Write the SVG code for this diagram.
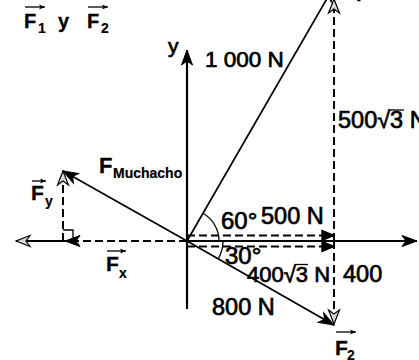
<svg xmlns="http://www.w3.org/2000/svg" width="419" height="360" viewBox="0 0 419 360">
<style>
text{font-family:"Liberation Sans",Arial,sans-serif;fill:#000;stroke:#000;stroke-width:0.7}
.b{font-weight:bold;stroke-width:0.3}
.lab{font-size:23.5px}
.sub{font-size:14px;font-weight:bold;stroke-width:0.2}
.axis{stroke:#000;stroke-width:2.2;fill:none}
.vec{stroke:#000;stroke-width:1.7;fill:none}
.dash{stroke:#000;stroke-width:2;stroke-dasharray:8 4;fill:none}
.thin{stroke:#000;stroke-width:1.3;fill:none}
</style>
<defs>
<marker id="blk" viewBox="-16 -7 17 14" refX="0" refY="0" markerWidth="17" markerHeight="14" markerUnits="userSpaceOnUse" orient="auto">
<path d="M0,0 L-15,-5.5 L-11,0 L-15,5.5 Z" fill="#000" stroke="#000" stroke-width="1"/>
</marker>
<marker id="hol" viewBox="-16 -7 17 14" refX="0" refY="0" markerWidth="17" markerHeight="14" markerUnits="userSpaceOnUse" orient="auto">
<path d="M0,0 L-14,-5.5 L-10,0 L-14,5.5 Z" fill="#d8d8d8" stroke="#000" stroke-width="1.2"/>
</marker>
<marker id="tri" viewBox="-14 -7 15 14" refX="0" refY="0" markerWidth="15" markerHeight="14" markerUnits="userSpaceOnUse" orient="auto">
<path d="M0,0 L-12,-5 L-12,5 Z" fill="#000" stroke="#000" stroke-width="1.4"/>
</marker>
<marker id="sm" viewBox="-7 -4 8 8" refX="0" refY="0" markerWidth="8" markerHeight="8" markerUnits="userSpaceOnUse" orient="auto">
<path d="M0,0 L-6,-2.5 L-4.5,0 L-6,2.5 Z" fill="#000"/>
</marker>
</defs>

<g id="connectors">
<line class="axis" x1="187" y1="309" x2="187" y2="50" marker-end="url(#blk)"/>
<line class="axis" x1="187" y1="241" x2="417" y2="241" marker-end="url(#blk)"/>
<line class="axis" x1="65" y1="241" x2="16" y2="241" marker-end="url(#hol)"/>
<line class="dash" x1="187" y1="241" x2="65" y2="241" marker-end="url(#blk)"/>
<line class="vec" x1="187" y1="241" x2="334" y2="-13.6" marker-end="url(#blk)"/>
<line class="vec" x1="187" y1="241" x2="334" y2="325" marker-end="url(#blk)"/>
<line class="vec" x1="187" y1="241" x2="63" y2="171" marker-end="url(#blk)"/>
<line class="dash" x1="63" y1="241" x2="63" y2="171" marker-end="url(#hol)"/>
<polyline class="thin" points="63,230 73,230 73,241"/>
<line class="dash" x1="187" y1="235.5" x2="334" y2="235.5" marker-end="url(#tri)"/>
<line class="dash" x1="187" y1="246.5" x2="334" y2="246.5" marker-end="url(#tri)"/>
<line class="dash" x1="334" y1="241" x2="334" y2="-1" marker-end="url(#hol)"/>
<line class="dash" x1="334" y1="241" x2="334" y2="324" marker-end="url(#hol)"/>
<path class="thin" d="M219,241 A32,32 0 0 0 203,213.3"/>
<path class="thin" d="M223,241 A36,36 0 0 1 218.2,259"/>
</g>

<g id="title">
<text class="b" x="24" y="28" font-size="20">F</text>
<text class="sub" x="38" y="33">1</text>
<line class="thin" x1="25" y1="7" x2="45" y2="7" marker-end="url(#sm)"/>
<text class="b" x="58" y="28" font-size="20">y</text>
<text class="b" x="87" y="28" font-size="20">F</text>
<text class="sub" x="101" y="33">2</text>
<line class="thin" x1="88" y1="7" x2="108" y2="7" marker-end="url(#sm)"/>
</g>

<g id="axis-y-label"><text x="168" y="53" font-size="21">y</text></g>

<g id="F1">
<text x="205" y="67" font-size="22.5">1 000 N</text>
<text class="b" x="356" y="1" font-size="20">F</text>
</g>

<g id="F1y"><text class="lab" x="338" y="128">500√3 N</text>
<line class="thin" x1="389" y1="110" x2="404" y2="110"/></g>

<g id="FMuchacho">
<text class="b" x="99" y="173" font-size="22">F</text>
<text class="sub" x="113" y="178" font-size="13">Muchacho</text>
</g>

<g id="Fy">
<text class="b" x="31" y="200" font-size="21">F</text>
<text class="sub" x="45" y="206">y</text>
<line class="thin" x1="32" y1="181" x2="46" y2="181" marker-end="url(#sm)"/>
</g>

<g id="Fx">
<text class="b" x="106" y="271" font-size="21">F</text>
<text class="sub" x="119" y="278">x</text>
<line class="thin" x1="107" y1="251" x2="126" y2="251" marker-end="url(#sm)"/>
</g>

<g id="angle60"><text x="221" y="229" font-size="24">60°</text></g>
<g id="F1x"><text class="lab" x="261" y="224">500 N</text></g>
<g id="angle30"><text x="225" y="264" font-size="24">30°</text></g>
<g id="F2x"><text x="247" y="282" font-size="22">400√3 N</text>
<line class="thin" x1="294.5" y1="264.5" x2="308" y2="264.5"/></g>
<g id="F2y"><text class="lab" x="343" y="282">400</text></g>
<g id="F2">
<text class="lab" x="212" y="315">800 N</text>
<text class="b" x="335" y="355" font-size="21">F</text>
<text class="sub" x="347" y="360">2</text>
<line class="thin" x1="336" y1="332" x2="356" y2="332" marker-end="url(#sm)"/>
</g>
</svg>
